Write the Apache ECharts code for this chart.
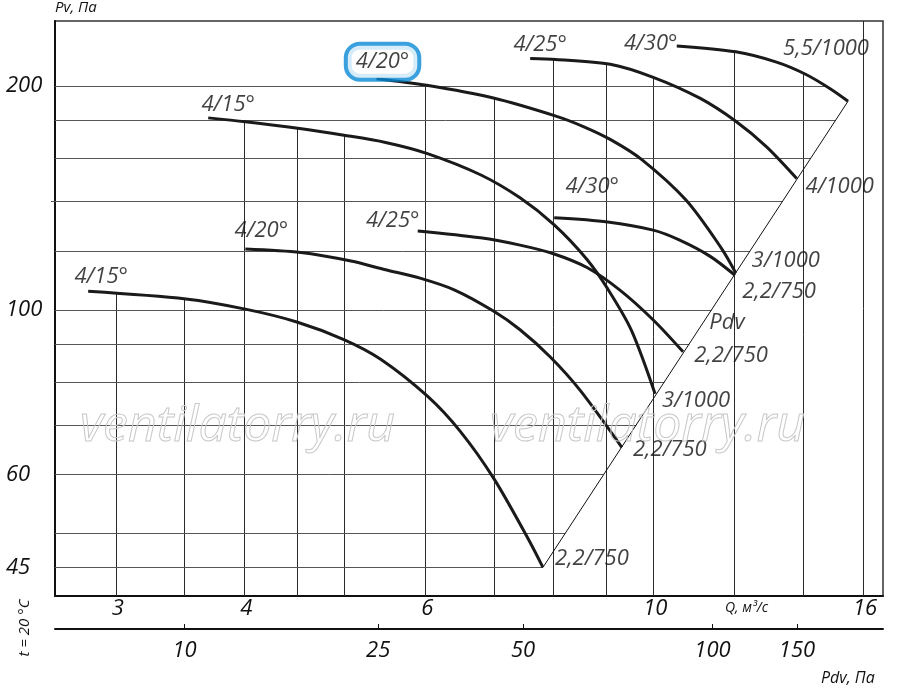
<!DOCTYPE html>
<html>
<head>
<meta charset="utf-8">
<script src="https://cdn.jsdelivr.net/npm/echarts@6/dist/echarts.min.js"></script>
<style>
  html, body { margin: 0; padding: 0; background: #fff; }
  #fan-chart { width: 900px; height: 688px; }
</style>
</head>
<body>
<div id="fan-chart"></div>
<script>
// axis ranges (Q, m3/s and Pv, Pa)
var qMin = 2.618, qMax = 16.73
var pMin = 41.18, pMax = 244.8

// fan curves: Q values and Pv values
var q1 = [2.82, 3.51, 4.01, 4.50, 5.00, 5.43, 6.03, 6.49, 7.00, 7.56, 7.81]
var p1 = [105.9, 103.4, 100.2, 96.3, 91.2, 85.8, 76.5, 68.6, 59.2, 49.1, 45.0]
var q2 = [4.01, 4.54, 5.08, 5.49, 5.93, 6.41, 6.99, 7.42, 7.94, 8.49, 9.32]
var p2 = [120.7, 119.4, 116.3, 113.2, 110.3, 106.3, 99.6, 94.0, 86.4, 77.9, 65.3]
var q3 = [5.90, 6.79, 7.42, 8.01, 8.62, 9.28, 10.0, 10.69]
var p3 = [127.7, 125.0, 122.2, 118.9, 114.0, 106.3, 96.9, 87.8]
var q4 = [3.69, 4.01, 4.51, 5.00, 5.49, 6.03, 6.79, 7.42, 8.01, 8.62, 9.03, 9.52, 10.04]
var p4 = [181.3, 179.1, 175.5, 171.8, 168.0, 162.3, 152.0, 141.5, 130.1, 116.9, 106.7, 93.9, 77.1]
var q5 = [8.01, 9.03, 10.0, 10.61, 11.35, 12.01]
var p5 = [133.0, 131.3, 128.0, 124.1, 118.1, 111.3]
var q6 = [5.38, 6.02, 6.99, 8.04, 8.55, 9.08, 9.74, 10.76, 11.65, 12.03]
var p6 = [204.7, 200.6, 192.8, 182.3, 176.5, 169.6, 159.4, 140.5, 121.0, 112.1]
var q7 = [7.59, 8.04, 9.08, 10.0, 11.10, 12.03, 12.89, 13.79]
var p7 = [217.9, 217.3, 214.1, 205.6, 192.7, 179.4, 165.7, 150.2]
var q8 = [10.54, 12.03, 13.18, 14.05, 14.85, 15.47]
var p8 = [226.6, 222.5, 215.5, 207.7, 198.6, 190.9]

var angleNames = ['4/15°', '4/20°', '4/25°', '4/15°', '4/30°', '4/20°', '4/25°', '4/30°']
var motorNames = ['2,2/750', '2,2/750', '2,2/750', '3/1000', '2,2/750', '3/1000', '4/1000', '5,5/1000']

// ticks and grid
var qTicks = [3, 4, 6, 10, 16]
var pTicks = [45, 60, 100, 200]
var pdvTicks = [10, 25, 50, 100, 150]
var pdvAtQ = [3.5, 5.4, 7.47, 11.42, 13.8]
var gridQ = [3, 3.5, 4, 4.5, 5, 6, 7, 8, 9, 10, 12, 14, 16]
var gridP = [45, 50, 60, 70, 80, 90, 100, 120, 140, 160, 180, 200]

var lg = Math.log10
var font = '"Open Sans", "DejaVu Sans", sans-serif'
var ink = '#111'

var curves = [[q1, p1], [q2, p2], [q3, p3], [q4, p4], [q5, p5], [q6, p6], [q7, p7], [q8, p8]].map(function (c) {
  return { x: c[0].map(lg), y: c[1].map(lg) }
})
// Pdv line runs through the ends of the lowest and highest curves
var diag = {
  x: [curves[0].x[curves[0].x.length - 1], curves[7].x[curves[7].x.length - 1]],
  y: [curves[0].y[curves[0].y.length - 1], curves[7].y[curves[7].y.length - 1]]
}

function interp(xs, ys, v) {
  for (var i = 0; i < xs.length - 1; i++) {
    var a = xs[i], b = xs[i + 1]
    if ((v >= a && v <= b) || (v <= a && v >= b)) {
      if (a === b) return ys[i]
      return ys[i] + (v - a) / (b - a) * (ys[i + 1] - ys[i])
    }
  }
  return null
}

// vertical grid lines stop at the highest curve above them
var vLines = gridQ.map(function (q) {
  var top = null
  curves.forEach(function (c) {
    var y = interp(c.x, c.y, lg(q))
    if (y !== null && (top === null || y > top)) top = y
  })
  if (top === null) top = lg(pMax)
  return { coords: [[lg(q), lg(pMin)], [lg(q), top]] }
})
// horizontal grid lines stop at the Pdv line or the outer curve
var hLines = gridP.map(function (p) {
  var right = null
  curves.concat([diag]).forEach(function (c) {
    var x = interp(c.y, c.x, lg(p))
    if (x !== null && (right === null || x > right)) right = x
  })
  if (right === null) right = lg(qMax)
  return { coords: [[lg(qMin), lg(p)], [right, lg(p)]] }
})

var startOff = [[13, -15], [16, -18], [-25, -10], [20, -13], [38, -31], [6, -17], [10, -14], [-26, -2]]
var endOff = [[49, -9], [48, 2], [48, 4], [41, 7], [44, 16], [50, -12], [43, 8], [-22, -52]]

var labelData = []
curves.forEach(function (c, i) {
  var n = c.x.length - 1
  var s = { value: [c.x[0], c.y[0]], label: { formatter: angleNames[i], offset: startOff[i] } }
  if (i === 5) {
    s.label.borderColor = '#0a89d6'
    s.label.borderWidth = 4
    s.label.borderRadius = 12
    s.label.padding = [5, 8]
    s.label.backgroundColor = '#fff'
  }
  labelData.push(s)
  labelData.push({ value: [c.x[n], c.y[n]], label: { formatter: motorNames[i], offset: endOff[i] } })
})
var pdvY = lg(96)
labelData.push({ value: [interp(diag.y, diag.x, pdvY), pdvY], label: { formatter: 'Pdv', offset: [24, 0] } })

var series = [
  {
    type: 'lines', coordinateSystem: 'cartesian2d', xAxisIndex: 0, yAxisIndex: 0,
    silent: true, z: 1, data: vLines,
    lineStyle: { color: '#2a2a2a', width: 1, opacity: 1 }
  },
  {
    type: 'lines', coordinateSystem: 'cartesian2d', xAxisIndex: 0, yAxisIndex: 0,
    silent: true, z: 1, data: hLines,
    lineStyle: { color: '#555', width: 1, opacity: 1 }
  },
  {
    type: 'line', xAxisIndex: 0, yAxisIndex: 0, silent: true, z: 2, showSymbol: false,
    data: diag.x.map(function (x, i) { return [x, diag.y[i]] }),
    lineStyle: { color: ink, width: 1 }
  }
]
curves.forEach(function (c) {
  series.push({
    type: 'line', xAxisIndex: 0, yAxisIndex: 0, silent: true, z: 3,
    showSymbol: false, smooth: 0.3,
    data: c.x.map(function (x, i) { return [x, c.y[i]] }),
    lineStyle: { color: '#1a1a1a', width: 3 }
  })
})
series.push({
  type: 'scatter', xAxisIndex: 0, yAxisIndex: 0, silent: true, z: 5,
  symbolSize: 1, itemStyle: { color: 'rgba(0,0,0,0)' },
  data: labelData,
  label: {
    show: true, position: 'inside', color: ink,
    fontFamily: font, fontStyle: 'italic', fontSize: 22
  }
})

function pow10(v) { return String(Math.round(Math.pow(10, v))) }

function bigLabel(extra) {
  var o = { fontFamily: font, fontStyle: 'italic', fontSize: 22, color: ink }
  for (var k in extra) o[k] = extra[k]
  return o
}

var myChart = echarts.init(document.getElementById('fan-chart'))

var option = {
  animation: false,
  backgroundColor: '#fff',
  grid: { left: 55, right: 17, top: 21, bottom: 92, show: true, borderColor: '#333', borderWidth: 1.5 },
  xAxis: [
    {
      type: 'value', min: lg(qMin), max: lg(qMax),
      axisLine: { show: true, onZero: false, lineStyle: { color: ink, width: 2 } },
      axisTick: { show: false },
      splitLine: { show: false },
      axisLabel: bigLabel({ customValues: qTicks.map(lg), formatter: pow10, margin: 2, padding: [0, 0, 0, 4] })
    },
    {
      type: 'value', position: 'bottom', offset: 33, min: lg(qMin), max: lg(qMax),
      axisLine: { show: true, onZero: false, lineStyle: { color: ink, width: 2 } },
      axisTick: { show: true, inside: true, length: 5, customValues: pdvAtQ.map(lg), lineStyle: { color: ink, width: 1 } },
      splitLine: { show: false },
      axisLabel: bigLabel({
        customValues: pdvAtQ.map(lg), margin: 11,
        formatter: function (v) {
          var best = 0
          pdvAtQ.forEach(function (q, i) { if (Math.abs(lg(q) - v) < Math.abs(lg(pdvAtQ[best]) - v)) best = i })
          return String(pdvTicks[best])
        }
      })
    }
  ],
  yAxis: {
    type: 'value', min: lg(pMin), max: lg(pMax),
    axisLine: { show: true, onZero: false, lineStyle: { color: ink, width: 2 } },
    axisTick: { show: true, length: 4, customValues: [lg(140)], lineStyle: { color: '#555' } },
    splitLine: { show: false },
    axisLabel: bigLabel({ customValues: pTicks.map(lg), formatter: pow10, align: 'left', margin: 49 })
  },
  graphic: [
    { type: 'text', left: 55, top: 0, style: { text: 'Pv, Па', font: 'italic 15px ' + font, fill: ink } },
    { type: 'text', left: 725, top: 601, style: { text: 'Q, м³/с', font: 'italic 14px ' + font, fill: ink } },
    { type: 'text', left: 821, top: 670, style: { text: 'Pdv, Па', font: 'italic 16px ' + font, fill: ink } },
    {
      type: 'text', x: 25, y: 628, rotation: Math.PI / 2,
      style: { text: 't = 20 °C', font: 'italic 15px ' + font, fill: ink, textAlign: 'center', textVerticalAlign: 'middle' }
    },
    {
      type: 'text', x: 80, y: 427, z: 10, silent: true,
      style: { text: 'ventilatorry.ru', font: 'italic 50px ' + font, fill: 'rgba(255,255,255,0)', stroke: '#c8c8c8', lineWidth: 1, textVerticalAlign: 'middle' }
    },
    {
      type: 'text', x: 490, y: 427, z: 10, silent: true,
      style: { text: 'ventilatorry.ru', font: 'italic 50px ' + font, fill: 'rgba(255,255,255,0)', stroke: '#c8c8c8', lineWidth: 1, textVerticalAlign: 'middle' }
    }
  ],
  series: series
}

myChart.setOption(option)
</script>
</body>
</html>
